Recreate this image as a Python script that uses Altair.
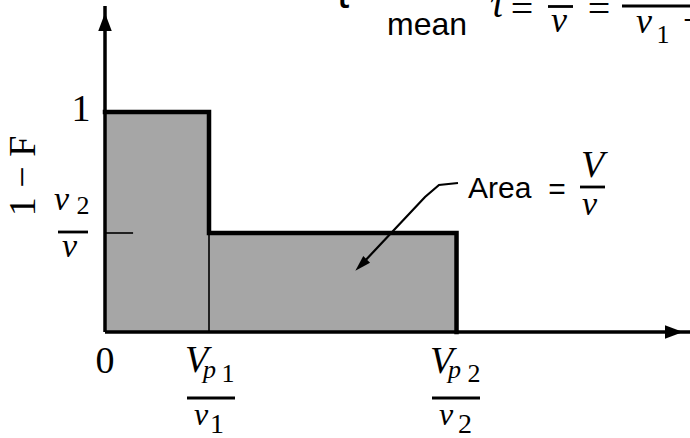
import altair as alt
import pandas as pd

# Residence-time step curve: 1 - F against time for two parallel plug flows
step_times = [0.0, 1.0, 3.38]      # 0, Vp1/v1, Vp2/v2
step_levels = [1.0, 0.45]          # 1, v2/v
thin_tick_end = 0.27               # short guide at the v2/v level

# ---- layout: canvas and the pixel position of the origin ----
W, H = 690, 438
ORIGIN_X, ORIGIN_Y = 105, 332
PX_PER_X, PX_PER_Y = 104, 220

xs = alt.Scale(domain=[-ORIGIN_X / PX_PER_X, (W - ORIGIN_X) / PX_PER_X], nice=False, zero=False)
ys = alt.Scale(domain=[-(H - ORIGIN_Y) / PX_PER_Y, ORIGIN_Y / PX_PER_Y], nice=False, zero=False)


def cx(px):
    """canvas column -> data x"""
    return (px - ORIGIN_X) / PX_PER_X


def cy(py):
    """canvas row -> data y"""
    return (ORIGIN_Y - py) / PX_PER_Y


def X(f="x"):
    return alt.X(f"{f}:Q", scale=xs, axis=None)


def Y(f="y"):
    return alt.Y(f"{f}:Q", scale=ys, axis=None)


# ---- shaded area under the step curve ----
rects = pd.DataFrame({
    "x": step_times[:-1],
    "x2": step_times[1:],
    "y": [0.0, 0.0],
    "y2": step_levels,
})
area = alt.Chart(rects).mark_rect(fill="#a6a6a6", stroke=None).encode(
    x=X(), x2="x2:Q", y=Y(), y2="y2:Q"
)

# thin inner guides
guides = pd.DataFrame({
    "x": [step_times[1], step_times[0]],
    "x2": [step_times[1], thin_tick_end],
    "y": [0.0, step_levels[1]],
    "y2": [step_levels[1], step_levels[1]],
})
guide_rules = alt.Chart(guides).mark_rule(color="black", strokeWidth=1.6).encode(
    x=X(), x2="x2:Q", y=Y(), y2="y2:Q"
)

# thick outline of the step
outline = pd.DataFrame({
    "x": [step_times[0], step_times[1], step_times[1], step_times[2], step_times[2]],
    "y": [step_levels[0], step_levels[0], step_levels[1], step_levels[1], 0.0],
    "i": [0, 1, 2, 3, 4],
})
outline_line = alt.Chart(outline).mark_line(
    color="black", strokeWidth=4.5, strokeJoin="miter", strokeCap="square"
).encode(x=X(), y=Y(), order="i:Q")

# ---- axes with arrowheads ----
axes = pd.DataFrame({
    "x": [0.0, 0.0],
    "x2": [0.0, cx(690)],
    "y": [0.0, 0.0],
    "y2": [cy(6), 0.0],
})
axis_rules = alt.Chart(axes).mark_rule(color="black", strokeWidth=3.5).encode(
    x=X(), x2="x2:Q", y=Y(), y2="y2:Q"
)
head_up = alt.Chart(pd.DataFrame({"x": [0.0], "y": [cy(22)]})).mark_point(
    shape="M0,-1L0.75,1L-0.75,1Z", size=324, filled=True, color="black", opacity=1
).encode(x=X(), y=Y())
head_right = alt.Chart(pd.DataFrame({"x": [cx(674)], "y": [0.0]})).mark_point(
    shape="M1,0L-1,-0.75L-1,0.75Z", size=324, filled=True, color="black", opacity=1
).encode(x=X(), y=Y())

# ---- callout arrow for the area label ----
callout = pd.DataFrame({
    "x": [cx(458), cx(439), cx(425), cx(362)],
    "y": [cy(183), cy(185), cy(197), cy(264)],
    "i": [0, 1, 2, 3],
})
callout_line = alt.Chart(callout).mark_line(color="black", strokeWidth=2.2).encode(
    x=X(), y=Y(), order="i:Q"
)
callout_head = alt.Chart(pd.DataFrame({"x": [cx(361)], "y": [cy(265)]})).mark_point(
    shape="M0,-1L0.6,1L-0.6,1Z", size=256, filled=True, color="black", opacity=1, angle=225
).encode(x=X(), y=Y())

# ---- fraction bars in the labels ----
bars = pd.DataFrame({
    "x": [cx(187), cx(432), cx(58), cx(580), cx(548), cx(622)],
    "x2": [cx(235), cx(480), cx(88), cx(605), cx(573), cx(692)],
    "y": [cy(398), cy(398), cy(232), cy(187), cy(6.5), cy(6)],
})
bar_rules = alt.Chart(bars).mark_rule(color="black", strokeWidth=2.8).encode(
    x=X(), x2="x2:Q", y=Y()
)


# ---- text ----
def texts(rows, font, style="normal", align="left", weight="normal"):
    df = pd.DataFrame(rows, columns=["px", "py", "t", "s"])
    df["x"] = df["px"].map(cx)
    df["y"] = df["py"].map(cy)
    return alt.Chart(df).mark_text(
        font=font, fontStyle=style, fontWeight=weight, align=align,
        baseline="alphabetic", color="black"
    ).encode(x=X(), y=Y(), text="t:N", size=alt.Size("s:Q", scale=None, legend=None))


SERIF = "Liberation Serif"
SANS = "Liberation Sans"

serif_upright = texts([
    (81, 121, "1", 38),
    (105, 373, "0", 38),
    (228, 382, "1", 26),
    (217, 433, "1", 28),
    (474, 382, "2", 26),
    (465, 433, "2", 28),
    (83, 214, "2", 26),
    (522, 22, "=", 40),
    (599, 22, "=", 40),
    (663, 43, "1", 26),
    (694, 33, "+", 40),
], SERIF, align="center")

serif_italic = texts([
    (185, 372, "V", 38),
    (203, 378, "p", 26),
    (194, 425, "v", 32),
    (430, 373, "V", 38),
    (448, 378, "p", 26),
    (439, 425, "v", 32),
    (54, 210, "v", 34),
    (62, 257, "v", 34),
    (581, 177, "V", 38),
    (582, 215, "v", 34),
    (490, 17, "τ", 40),
    (551, 32, "v", 36),
    (636, 33, "v", 36),
], SERIF, style="italic")

sans = texts([
    (468, 198, "Area", 30),
    (387, 35, "mean", 32),
    (337, 8, "t", 44),
], SANS)

sans_eq = texts([(557, 199, "=", 30)], SANS, align="center")

y_title = alt.Chart(pd.DataFrame({"x": [cx(24)], "y": [cy(176)], "t": ["1 − F"]})).mark_text(
    font=SERIF, fontSize=38, angle=270, align="center", baseline="middle", color="black"
).encode(x=X(), y=Y(), text="t:N")

chart = alt.layer(
    area, guide_rules, outline_line, axis_rules, head_up, head_right,
    callout_line, callout_head, bar_rules,
    serif_upright, serif_italic, sans, sans_eq, y_title,
).properties(
    width=W, height=H, padding=0, autosize=alt.AutoSizeParams(type="none"), background="white"
).configure_view(stroke=None)

chart.save("out.html", embed_options={"renderer": "svg", "actions": False})
